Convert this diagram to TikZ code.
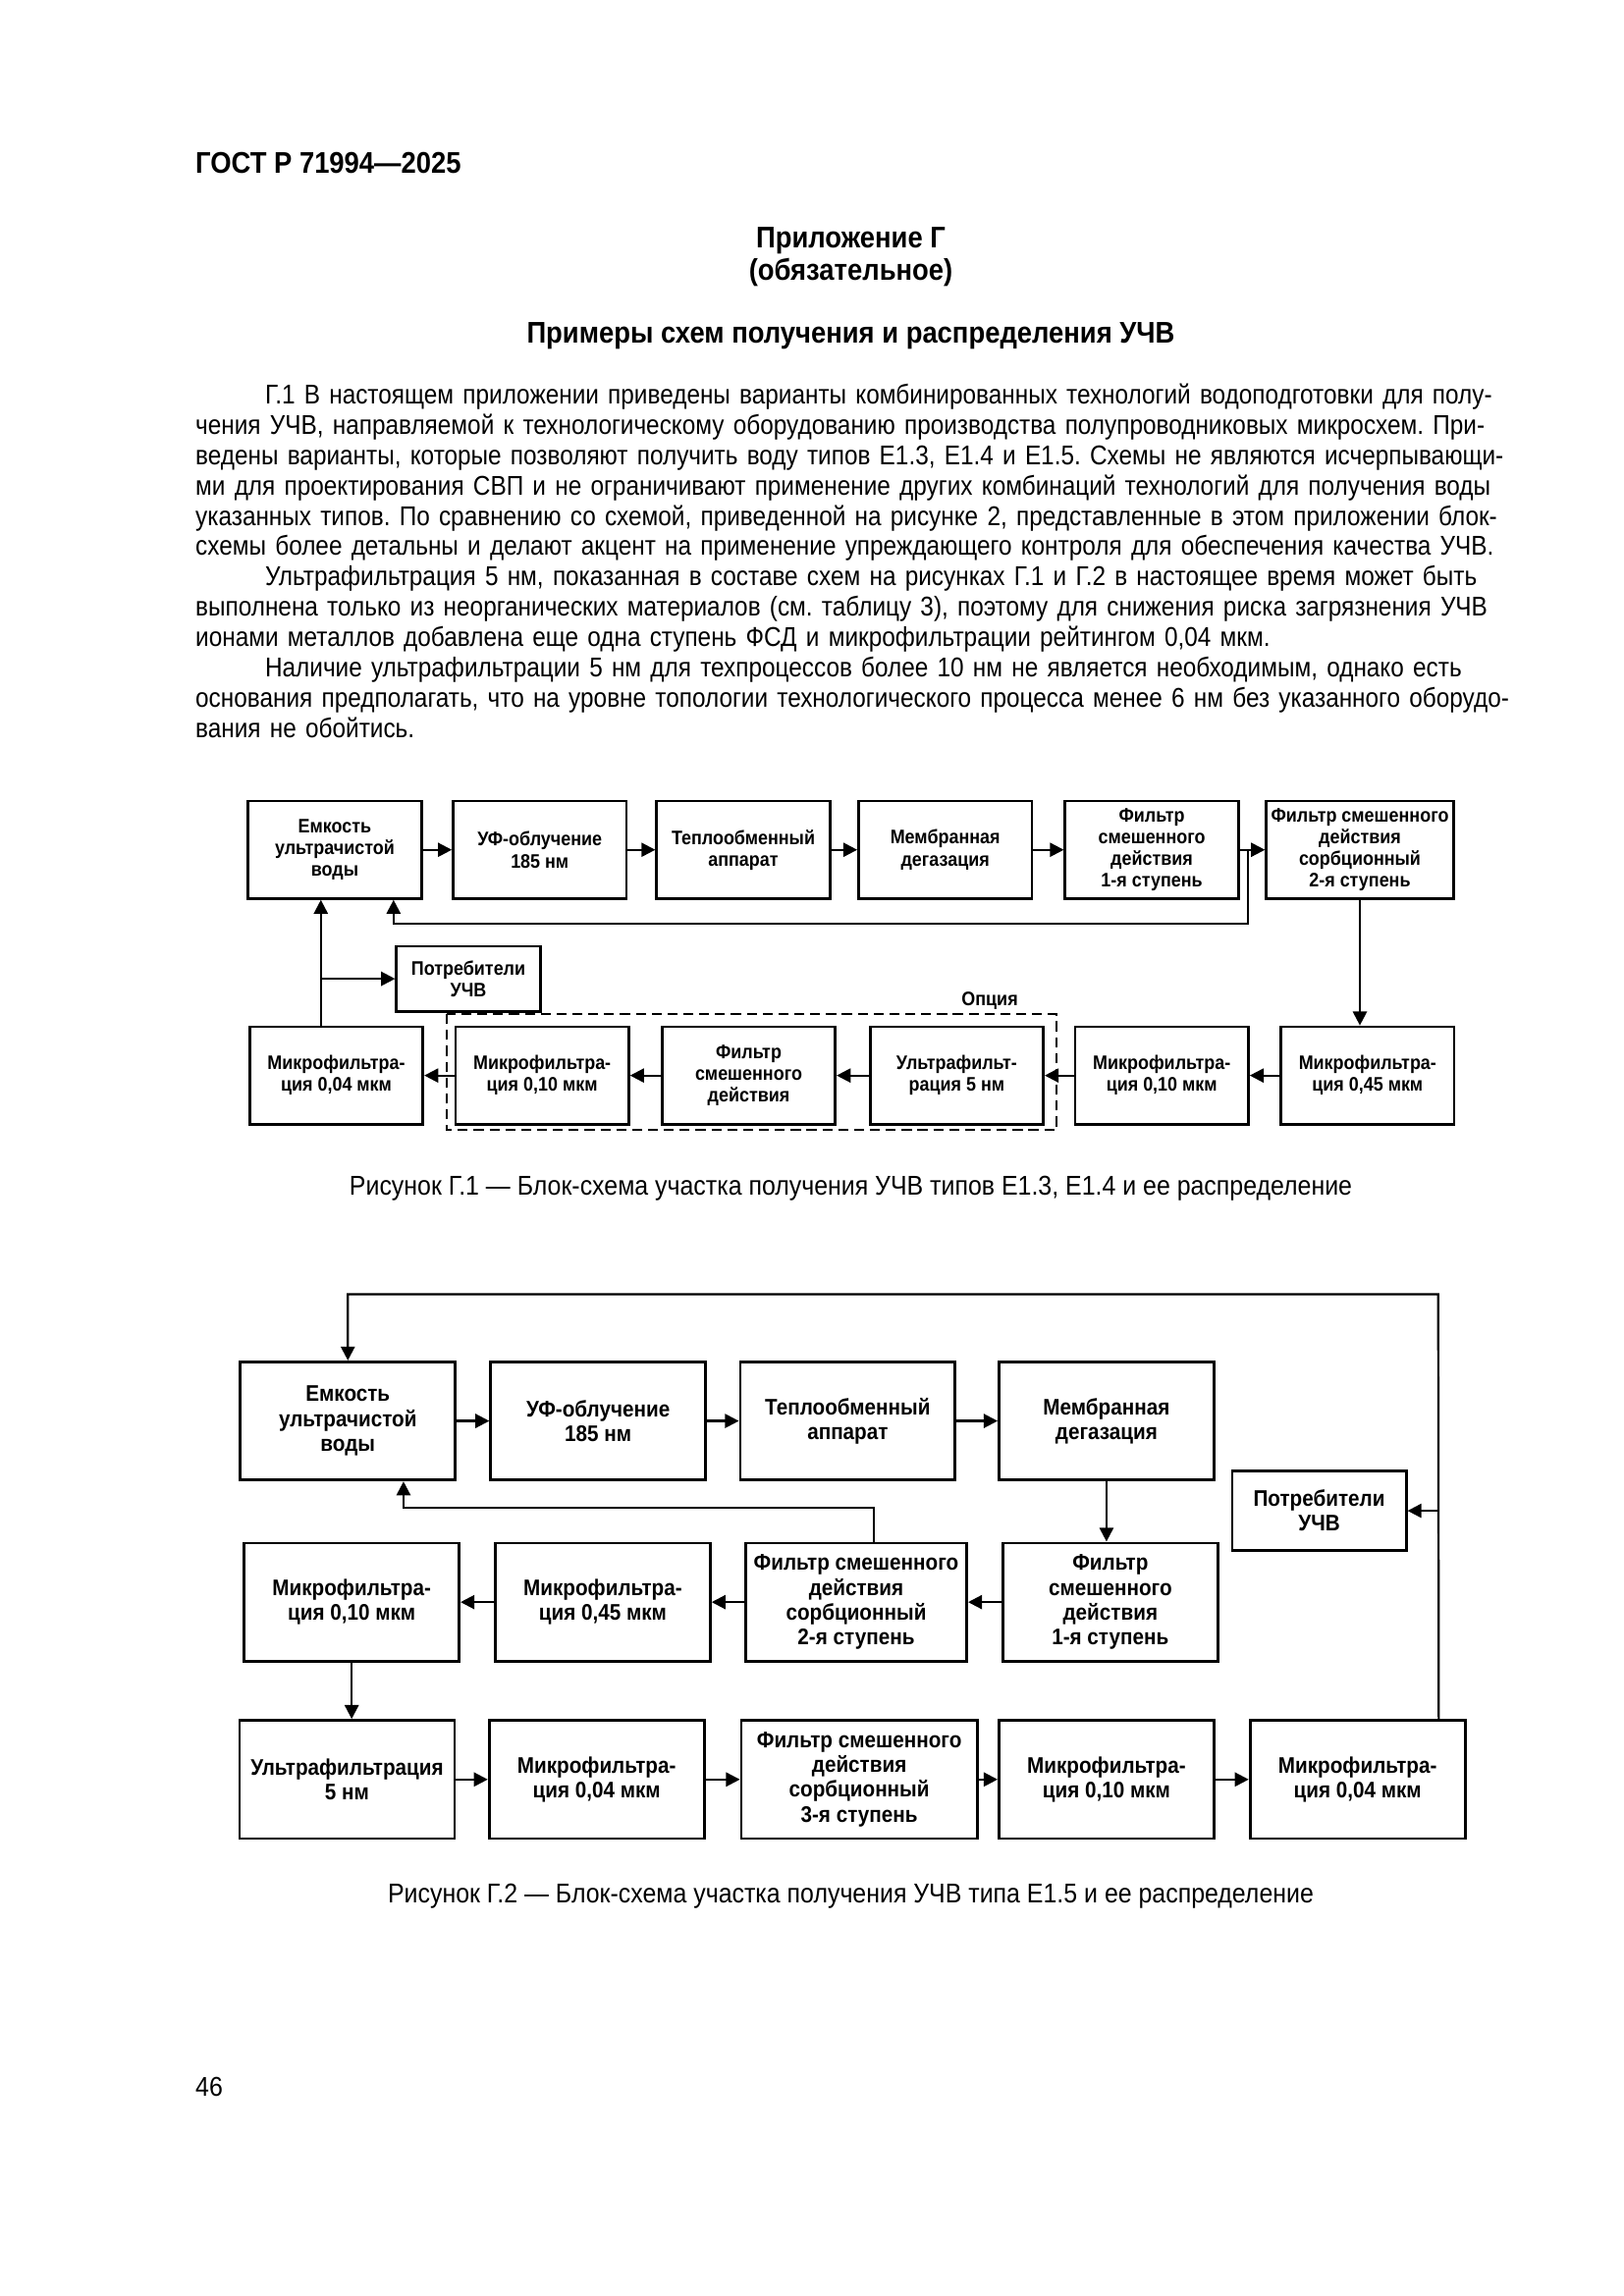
\documentclass[tikz,border=0pt]{standalone}
\usepackage{fontspec}
\setmainfont{Liberation Sans}[FakeStretch=0.9]
\newfontfamily\bodyfam{Liberation Sans}[FakeStretch=0.88]
\usetikzlibrary{arrows.meta}
\frenchspacing

\newcommand\figA{\fontsize{7.2}{8}\selectfont\bfseries}
\newcommand\figB{\fontsize{8.3}{9.1}\selectfont\bfseries}
\newcommand\headfont{\fontsize{11}{13}\selectfont\bfseries}
\newcommand\capfont{\fontsize{10}{11.15}\selectfont}
\newcommand\bodyfont{\bodyfam\fontsize{10}{11.15}\selectfont}
\newcommand\jline[1]{\hbox to 169.4mm{\strut#1}}
\newcommand\lastline[1]{\hbox{\strut#1}}

\begin{document}
\begin{tikzpicture}[x=0.993mm, y=-0.993mm,
        txt/.style = {inner sep=0pt},
        box/.style = {draw, line width=1pt, align=center, inner sep=0pt},
        small/.style = {box, minimum width=22.4mm, minimum height=12.6mm, font=\figA},
        big/.style = {box, minimum width=27.8mm, minimum height=15.3mm, font=\figB},
        flow/.style = {draw, line width=0.8pt, -{Triangle[length=1.8mm, width=1.8mm]}}
    ]
    \path[fill=white] (0,0) rectangle (211.48,299.09);

    % page head and text
    \node[txt, anchor=base west, font=\headfont] (gost) at (25.4,22.6) {ГОСТ Р 71994—2025};
    \node[txt, anchor=base, font=\headfont] (app) at (110.8,32.3) {Приложение Г};
    \node[txt, anchor=base, font=\headfont] (oblig) at (110.8,36.5) {(обязательное)};
    \node[txt, anchor=base, font=\headfont] (title) at (110.8,44.7) {Примеры схем получения и распределения УЧВ};
    \node[txt, anchor=north west, text width=169.4mm, font=\bodyfont] (body) at (25.4,49.8) {%
        \jline{\hspace*{9mm}Г.1 В настоящем приложении приведены варианты комбинированных технологий водоподготовки для полу-}
        \jline{чения УЧВ, направляемой к технологическому оборудованию производства полупроводниковых микросхем. При-}
        \jline{ведены варианты, которые позволяют получить воду типов E1.3, E1.4 и E1.5. Схемы не являются исчерпывающи-}
        \jline{ми для проектирования СВП и не ограничивают применение других комбинаций технологий для получения воды}
        \jline{указанных типов. По сравнению со схемой, приведенной на рисунке 2, представленные в этом приложении блок-}
        \lastline{схемы более детальны и делают акцент на применение упреждающего контроля для обеспечения качества УЧВ.}
        \jline{\hspace*{9mm}Ультрафильтрация 5 нм, показанная в составе схем на рисунках Г.1 и Г.2 в настоящее время может быть}
        \jline{выполнена только из неорганических материалов (см. таблицу 3), поэтому для снижения риска загрязнения УЧВ}
        \lastline{ионами металлов добавлена еще одна ступень ФСД и микрофильтрации рейтингом 0,04 мкм.}
        \jline{\hspace*{9mm}Наличие ультрафильтрации 5 нм для техпроцессов более 10 нм не является необходимым, однако есть}
        \jline{основания предполагать, что на уровне топологии технологического процесса менее 6 нм без указанного оборудо-}
        \lastline{вания не обойтись.}};

    % figure G.1
    \node[small] (A1) at (43.6,110.7) {Емкость\\ультрачистой\\воды};
    \node[small] (A2) at (70.3,110.7) {УФ-облучение\\185 нм};
    \node[small] (A3) at (96.8,110.7) {Теплообменный\\аппарат};
    \node[small] (A4) at (123.1,110.7) {Мембранная\\дегазация};
    \node[small] (A5) at (150.0,110.7) {Фильтр\\смешенного\\действия\\1-я ступень};
    \node[small, minimum width=24.2mm] (A6) at (177.1,110.7) {Фильтр смешенного\\действия\\сорбционный\\2-я ступень};
    \node[small] (B1) at (43.8,140.1) {Микрофильтра-\\ция 0,04 мкм};
    \node[small] (B2) at (70.6,140.1) {Микрофильтра-\\ция 0,10 мкм};
    \node[small] (B3) at (97.5,140.1) {Фильтр\\смешенного\\действия};
    \node[small] (B4) at (124.6,140.1) {Ультрафильт-\\рация 5 нм};
    \node[small] (B5) at (151.3,140.1) {Микрофильтра-\\ция 0,10 мкм};
    \node[small] (B6) at (178.1,140.1) {Микрофильтра-\\ция 0,45 мкм};
    \node[small, minimum width=18.6mm, minimum height=8.4mm] (K1) at (61.0,127.5) {Потребители\\УЧВ};
    \node[txt, anchor=base, font=\figA] (opt) at (128.9,131.0) {Опция};
    \draw[line width=0.7pt, dash pattern=on 1.3mm off 0.75mm] (58.2,132.1) rectangle (137.6,147.2);
    \coordinate (J1) at (162.5,110.7);
    \coordinate (J2) at (41.8,127.5);

    \draw[flow] (A1) -- (A2);
    \draw[flow] (A2) -- (A3);
    \draw[flow] (A3) -- (A4);
    \draw[flow] (A4) -- (A5);
    \draw[flow] (A5) -- (A6);
    \draw[flow] (J1) -- ++(0,9.6) -| ([xshift=7.6mm]A1.south);
    \draw[flow] (A6) -- (A6 |- B6.north);
    \draw[flow] (B6) -- (B5);
    \draw[flow] (B5) -- (B4);
    \draw[flow] (B4) -- (B3);
    \draw[flow] (B3) -- (B2);
    \draw[flow] (B2) -- (B1);
    \draw[flow] ([xshift=-2mm]B1.north) -- ([xshift=-2mm]B1.north |- A1.south);
    \draw[flow] (J2) -- (K1);

    \node[txt, anchor=base, font=\capfont] (cap1) at (110.8,155.7) {Рисунок Г.1 — Блок-схема участка получения УЧВ типов E1.3, E1.4 и ее распределение};

    % figure G.2
    \node[big] (C1) at (45.3,185.1) {Емкость\\ультрачистой\\воды};
    \node[big] (C2) at (77.9,185.1) {УФ-облучение\\185 нм};
    \node[big] (C3) at (110.4,185.1) {Теплообменный\\аппарат};
    \node[big] (C4) at (144.1,185.1) {Мембранная\\дегазация};
    \node[big] (D1) at (45.8,208.7) {Микрофильтра-\\ция 0,10 мкм};
    \node[big] (D2) at (78.5,208.7) {Микрофильтра-\\ция 0,45 мкм};
    \node[big, minimum width=28.6mm] (D3) at (111.5,208.7) {Фильтр смешенного\\действия\\сорбционный\\2-я ступень};
    \node[big] (D4) at (144.6,208.7) {Фильтр\\смешенного\\действия\\1-я ступень};
    \node[big] (E1) at (45.2,231.8) {Ультрафильтрация\\5 нм};
    \node[big] (E2) at (77.7,231.8) {Микрофильтра-\\ция 0,04 мкм};
    \node[big, minimum width=30.5mm] (E3) at (111.9,231.8) {Фильтр смешенного\\действия\\сорбционный\\3-я ступень};
    \node[big] (E4) at (144.1,231.8) {Микрофильтра-\\ция 0,10 мкм};
    \node[big] (E5) at (176.8,231.8) {Микрофильтра-\\ция 0,04 мкм};
    \node[big, minimum width=22.5mm, minimum height=10.3mm] (K2) at (171.8,196.8) {Потребители\\УЧВ};
    \coordinate (T1) at (187.3,168.6);
    \coordinate (J3) at (187.3,196.8);

    \draw[flow] (C1) -- (C2);
    \draw[flow] (C2) -- (C3);
    \draw[flow] (C3) -- (C4);
    \draw[flow] (C4) -- (C4 |- D4.north);
    \draw[flow] (D4) -- (D3);
    \draw[flow] (D3) -- (D2);
    \draw[flow] (D2) -- (D1);
    \draw[flow] ([xshift=2.3mm]D3.north) -- ++(0,-4.4) -| ([xshift=7.2mm]C1.south);
    \draw[flow] (D1) -- (D1 |- E1.north);
    \draw[flow] (E1) -- (E2);
    \draw[flow] (E2) -- (E3);
    \draw[flow] (E3) -- (E4);
    \draw[flow] (E4) -- (E5);
    \draw[flow] ([xshift=10.5mm]E5.north) -- (T1) -| (C1.north);
    \draw[flow] (J3) -- (K2);

    \node[txt, anchor=base, font=\capfont] (cap2) at (110.8,247.9) {Рисунок Г.2 — Блок-схема участка получения УЧВ типа E1.5 и ее распределение};
    \node[txt, anchor=base west, font=\capfont] (page) at (25.4,273.1) {46};
\end{tikzpicture}
\end{document}
